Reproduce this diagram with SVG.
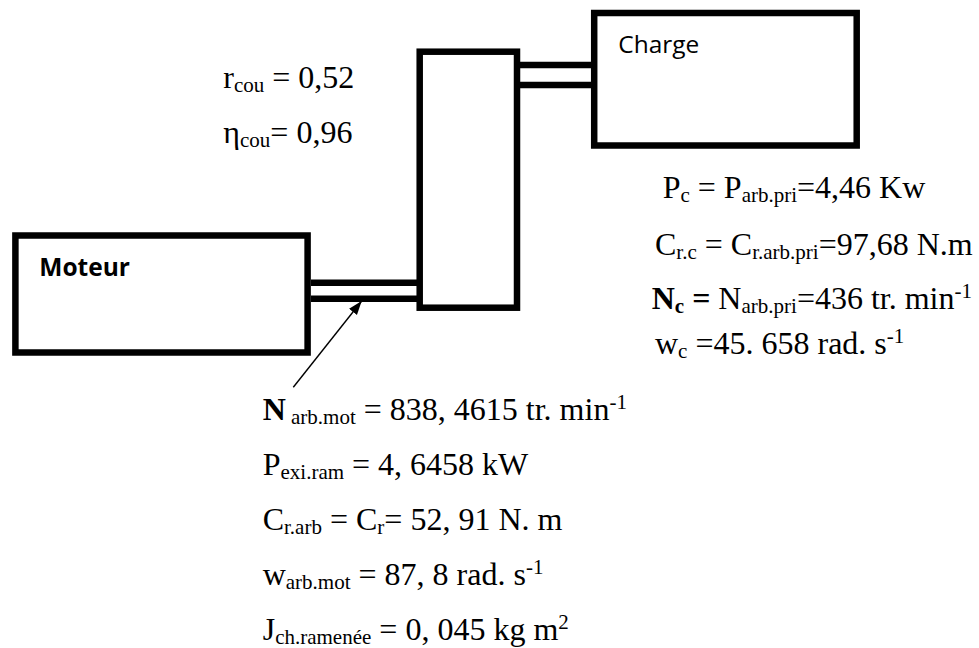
<svg xmlns="http://www.w3.org/2000/svg" width="979" height="648" viewBox="0 0 979 648">
<style>
.box{fill:none;stroke:#000;stroke-width:6.5;}
.shaft{stroke:#000;stroke-width:6.6;fill:none;}
.lbl{font-family:"Open Sans","Liberation Sans",sans-serif;fill:#000;}
.t{font-family:"Liberation Serif","Times New Roman",serif;font-size:32px;fill:#000;}
.sub{font-size:21px;}
.b{font-weight:bold;}
.arrow{stroke:#000;stroke-width:1.4;fill:none;}
</style>
<defs>
<marker id="ah" markerUnits="userSpaceOnUse" markerWidth="15" markerHeight="11" refX="14" refY="5" orient="auto">
<path d="M0,0 L14,5 L0,10 z" fill="#000"/>
</marker>
</defs>
<rect width="979" height="648" fill="#fff"/>
<g id="connectors">
<line class="shaft" x1="311" y1="282.7" x2="417" y2="282.7"/>
<line class="shaft" x1="311" y1="298.7" x2="417" y2="298.7"/>
<line class="shaft" x1="520" y1="65" x2="591" y2="65"/>
<line class="shaft" x1="520" y1="85" x2="591" y2="85"/>
<line class="arrow" x1="293.3" y1="387.3" x2="361.7" y2="301" marker-end="url(#ah)"/>
</g>
<g id="moteur">
<rect class="box" x="15.4" y="235.5" width="292.2" height="117"/>
<text class="lbl b" x="39.3" y="276" font-size="24.5" textLength="90.7" lengthAdjust="spacingAndGlyphs">Moteur</text>
</g>
<g id="coupleur">
<rect class="box" x="419.7" y="51.7" width="97.3" height="256"/>
</g>
<g id="charge">
<rect class="box" x="594.2" y="13" width="262.5" height="132.5"/>
<text class="lbl" x="618.3" y="53.3" font-size="24.2" textLength="81" lengthAdjust="spacingAndGlyphs">Charge</text>
</g>
<g id="coupleur-params">
<text class="t" x="223.3" y="88.3">r<tspan class="sub" dy="4">cou</tspan><tspan dy="-4"> = 0,52</tspan></text>
<text class="t" x="223.3" y="143.3">η<tspan class="sub" dy="4">cou</tspan><tspan dy="-4">= 0,96</tspan></text>
</g>
<g id="charge-params">
<text class="t" x="662.7" y="198.3">P<tspan class="sub" dy="4">c</tspan><tspan dy="-4"> = P</tspan><tspan class="sub" dy="4">arb.pri</tspan><tspan dy="-4">=4,46 Kw</tspan></text>
<text class="t" x="655" y="255">C<tspan class="sub" dy="4">r.c</tspan><tspan dy="-4"> = C</tspan><tspan class="sub" dy="4">r.arb.pri</tspan><tspan dy="-4">=97,68 N.m</tspan></text>
<text class="t" x="651.7" y="309"><tspan class="b">N</tspan><tspan class="sub b" dy="4">c</tspan><tspan class="b" dy="-4"> = </tspan>N<tspan class="sub" dy="4">arb.pri</tspan><tspan dy="-4">=436 tr. min</tspan><tspan class="sub" dy="-11">-1</tspan></text>
<text class="t" x="655" y="354">w<tspan class="sub" dy="4">c</tspan><tspan dy="-4"> =45. 658 rad. s</tspan><tspan class="sub" dy="-11">-1</tspan></text>
</g>
<g id="moteur-params">
<text class="t" x="262.7" y="420"><tspan class="b">N</tspan><tspan class="sub" dy="4"> arb.mot</tspan><tspan dy="-4"> = 838, 4615 tr. min</tspan><tspan class="sub" dy="-11">-1</tspan></text>
<text class="t" x="262.7" y="475">P<tspan class="sub" dy="4">exi.ram</tspan><tspan dy="-4"> = 4, 6458 kW</tspan></text>
<text class="t" x="262.7" y="530">C<tspan class="sub" dy="4">r.arb</tspan><tspan dy="-4"> = C</tspan><tspan class="sub" dy="4">r</tspan><tspan dy="-4">= 52, 91 N. m</tspan></text>
<text class="t" x="262.7" y="585">w<tspan class="sub" dy="4">arb.mot</tspan><tspan dy="-4"> = 87, 8 rad. s</tspan><tspan class="sub" dy="-11">-1</tspan></text>
<text class="t" x="262.7" y="640">J<tspan class="sub" dy="4">ch.ramenée</tspan><tspan dy="-4"> = 0, 045 kg m</tspan><tspan class="sub" dy="-11">2</tspan></text>
</g>
</svg>
